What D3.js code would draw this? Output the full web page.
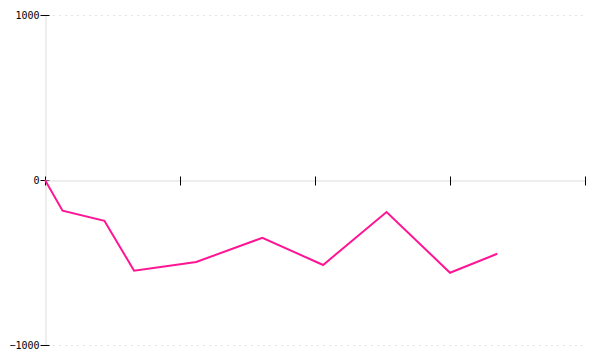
<!DOCTYPE html>
<html>
<head>
<meta charset="utf-8">
<script src="https://cdn.jsdelivr.net/npm/d3@7"></script>
<style>
  body { margin: 0; background: #fff; }
  svg { display: block; }
</style>
</head>
<body>
<div id="chart"></div>
<script>
// Data
const xs = [0, 1.3, 4.4, 6.6, 11.2, 16.1, 20.6, 25.3, 30.0, 33.5]
const ys = [0, -186, -247, -550, -497, -350, -515, -194, -562, -447]
const x_ticks = [0, 10, 20, 30, 40]
const y_ticks = [-1000, 0, 1000]
const y_grid = [-1000, 1000]

var width = 600
var height = 360
var margin = {top: 15, right: 15, bottom: 15, left: 45}

var svg = d3.select("#chart").append("svg")
    .attr("width", width)
    .attr("height", height)

var x = d3.scaleLinear()
    .domain([0, 40])
    .range([margin.left, width - margin.right])

var y = d3.scaleLinear()
    .domain([-1000, 1000])
    .range([height - margin.bottom, margin.top])

// Dashed grid
svg.append("g")
    .selectAll("line")
    .data(y_grid)
    .join("line")
    .attr("x1", margin.left + 8)
    .attr("x2", width - margin.right - 2)
    .attr("y1", d => y(d) + 0.5)
    .attr("y2", d => y(d) + 0.5)
    .attr("stroke", "#e4e4e4")
    .attr("stroke-dasharray", "2,4")

// y axis
var y_axis = svg.append("g")
    .attr("transform", "translate(" + (margin.left + 0.5) + ",0)")
    .call(d3.axisLeft(y).tickValues(y_ticks).tickFormat(d3.format("d")).tickSize(0).tickPadding(6))
y_axis.select(".domain").attr("stroke", "#dddddd")
y_axis.selectAll(".tick line")
    .attr("x1", -5).attr("x2", 4)
    .attr("stroke", "#000")
y_axis.selectAll("text")
    .attr("font-family", "DejaVu Sans Mono, monospace")
    .attr("font-size", 10)
    .attr("fill", "#000")

// x axis at y = 0
var x_axis = svg.append("g")
    .attr("transform", "translate(0," + (y(0) + 0.5) + ")")
    .call(d3.axisBottom(x).tickValues(x_ticks).tickFormat("").tickSize(0))
x_axis.select(".domain").attr("stroke", "#dddddd")
x_axis.selectAll(".tick line")
    .attr("y1", -4).attr("y2", 5)
    .attr("stroke", "#000")

// Line
var line = d3.line()
    .x((d, i) => x(xs[i]))
    .y(d => y(d))

svg.append("path")
    .datum(ys)
    .attr("fill", "none")
    .attr("stroke", "#ff1493")
    .attr("stroke-width", 2)
    .attr("d", line)
</script>
</body>
</html>
